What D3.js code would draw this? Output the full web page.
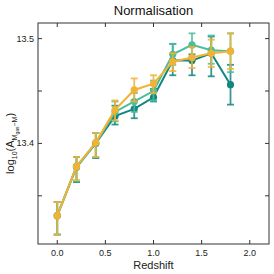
<!DOCTYPE html>
<html>
<head>
<meta charset="utf-8">
<script src="https://cdn.jsdelivr.net/npm/d3@7"></script>
<style>
  html, body { margin: 0; padding: 0; background: #fff; }
  svg { display: block; font-family: "Liberation Sans", Arial, sans-serif; }
</style>
</head>
<body>
<div id="chart"></div>
<script>
// redshift bins
const redshifts = [0.0, 0.2, 0.4, 0.6, 0.8, 1.0, 1.2, 1.4, 1.6, 1.8];

// dark teal series
const darkVal = [13.331, 13.378, 13.400, 13.426, 13.433, 13.444, 13.479, 13.479, 13.486, 13.456];
const darkLo  = [13.313, 13.363, 13.386, 13.418, 13.424, 13.440, 13.465, 13.465, 13.464, 13.437];
const darkHi  = [13.344, 13.387, 13.410, 13.436, 13.441, 13.452, 13.495, 13.485, 13.502, 13.475];

// medium teal series
const midVal = [13.331, 13.377, 13.400, 13.430, 13.440, 13.450, 13.485, 13.494, 13.489, 13.488];
const midLo  = [13.313, 13.364, 13.387, 13.421, 13.430, 13.441, 13.475, 13.483, 13.476, 13.468];
const midHi  = [13.344, 13.387, 13.410, 13.440, 13.448, 13.460, 13.495, 13.505, 13.503, 13.505];

// orange series
const orgVal = [13.331, 13.378, 13.401, 13.432, 13.451, 13.457, 13.478, 13.482, 13.486, 13.488];
const orgLo  = [13.313, 13.365, 13.387, 13.422, 13.440, 13.448, 13.469, 13.472, 13.473, 13.471];
const orgHi  = [13.344, 13.387, 13.410, 13.441, 13.462, 13.465, 13.486, 13.492, 13.499, 13.505];

const xTicks = [0.0, 0.5, 1.0, 1.5, 2.0];
const yTicks = [13.35, 13.4, 13.45, 13.5];
const yLabelled = [13.4, 13.5];

const series = [
  { color: '#13877f', val: darkVal, lo: darkLo, hi: darkHi },
  { color: '#4dbc9c', val: midVal, lo: midLo, hi: midHi },
  { color: '#f2b233', val: orgVal, lo: orgLo, hi: orgHi }
];

const W = 274, H = 274;
const margin = { top: 23, right: 5, bottom: 30, left: 38 };
const width = W - margin.left - margin.right;
const height = H - margin.top - margin.bottom;

const svg = d3.select('#chart').append('svg')
  .attr('width', W)
  .attr('height', H);

const g = svg.append('g')
  .attr('transform', `translate(${margin.left},${margin.top})`);

const x = d3.scaleLinear().domain([-0.2, 2.2]).range([0, width]);
const y = d3.scaleLinear().domain([13.304, 13.5149]).range([height, 0]);

// frame
g.append('rect')
  .attr('width', width)
  .attr('height', height)
  .attr('fill', 'none')
  .attr('stroke', '#333')
  .attr('stroke-width', 1);

// ticks pointing inward on all sides
const tickLen = 4;
const tickColor = '#333';
g.append('g').selectAll('line.xb').data(xTicks).join('line')
  .attr('x1', d => x(d)).attr('x2', d => x(d))
  .attr('y1', height).attr('y2', height - tickLen)
  .attr('stroke', tickColor);
g.append('g').selectAll('line.xt').data(xTicks).join('line')
  .attr('x1', d => x(d)).attr('x2', d => x(d))
  .attr('y1', 0).attr('y2', tickLen)
  .attr('stroke', tickColor);
g.append('g').selectAll('line.yl').data(yTicks).join('line')
  .attr('x1', 0).attr('x2', tickLen)
  .attr('y1', d => y(d)).attr('y2', d => y(d))
  .attr('stroke', tickColor);
g.append('g').selectAll('line.yr').data(yTicks).join('line')
  .attr('x1', width).attr('x2', width - tickLen)
  .attr('y1', d => y(d)).attr('y2', d => y(d))
  .attr('stroke', tickColor);

// tick labels
g.append('g').selectAll('text').data(xTicks).join('text')
  .attr('x', d => x(d))
  .attr('y', height + 12)
  .attr('text-anchor', 'middle')
  .attr('font-size', 9)
  .attr('fill', '#222')
  .text(d3.format('.1f'));

g.append('g').selectAll('text').data(yLabelled).join('text')
  .attr('x', -4)
  .attr('y', d => y(d) + 3)
  .attr('text-anchor', 'end')
  .attr('font-size', 9)
  .attr('fill', '#222')
  .text(d3.format('.1f'));

// axis labels and title
svg.append('text')
  .attr('x', margin.left + width / 2)
  .attr('y', H - 5)
  .attr('text-anchor', 'middle')
  .attr('font-size', 11)
  .attr('fill', '#222')
  .text('Redshift');

svg.append('text')
  .attr('x', margin.left + width / 2)
  .attr('y', 15)
  .attr('text-anchor', 'middle')
  .attr('font-size', 13)
  .attr('fill', '#111')
  .text('Normalisation');

const yl = svg.append('text')
  .attr('transform', `translate(14,${margin.top + y(13.4)}) rotate(-90)`)
  .attr('text-anchor', 'middle')
  .attr('font-size', 11)
  .attr('fill', '#222');
yl.append('tspan').text('log');
yl.append('tspan').attr('font-size', 7).attr('dy', 3).text('10');
yl.append('tspan').attr('dy', -3).text('(A');
yl.append('tspan').attr('font-size', 7).attr('dy', 3).text('M');
yl.append('tspan').attr('font-size', 5).attr('dy', 2).text('gas');
yl.append('tspan').attr('font-size', 7).attr('dy', -2).text('\u2212M');
yl.append('tspan').attr('dy', -3).text(')');

// series
const line = d3.line()
  .x(d => x(d.z))
  .y(d => y(d.v));
const cap = 3.5;

series.forEach(s => {
  const pts = redshifts.map((z, i) => ({ z, v: s.val[i], lo: s.lo[i], hi: s.hi[i] }));
  const sg = g.append('g');

  const eb = sg.append('g')
    .attr('stroke', s.color)
    .attr('stroke-opacity', 0.85)
    .attr('stroke-width', 1.8);
  eb.selectAll('line.v').data(pts).join('line')
    .attr('x1', d => x(d.z)).attr('x2', d => x(d.z))
    .attr('y1', d => y(d.lo)).attr('y2', d => y(d.hi));
  eb.selectAll('line.lo').data(pts).join('line')
    .attr('x1', d => x(d.z) - cap).attr('x2', d => x(d.z) + cap)
    .attr('y1', d => y(d.lo)).attr('y2', d => y(d.lo));
  eb.selectAll('line.hi').data(pts).join('line')
    .attr('x1', d => x(d.z) - cap).attr('x2', d => x(d.z) + cap)
    .attr('y1', d => y(d.hi)).attr('y2', d => y(d.hi));

  sg.append('path')
    .datum(pts)
    .attr('d', line)
    .attr('fill', 'none')
    .attr('stroke', s.color)
    .attr('stroke-width', 2);

  sg.selectAll('circle').data(pts).join('circle')
    .attr('cx', d => x(d.z))
    .attr('cy', d => y(d.v))
    .attr('r', 3.6)
    .attr('fill', s.color);
});
</script>
</body>
</html>
